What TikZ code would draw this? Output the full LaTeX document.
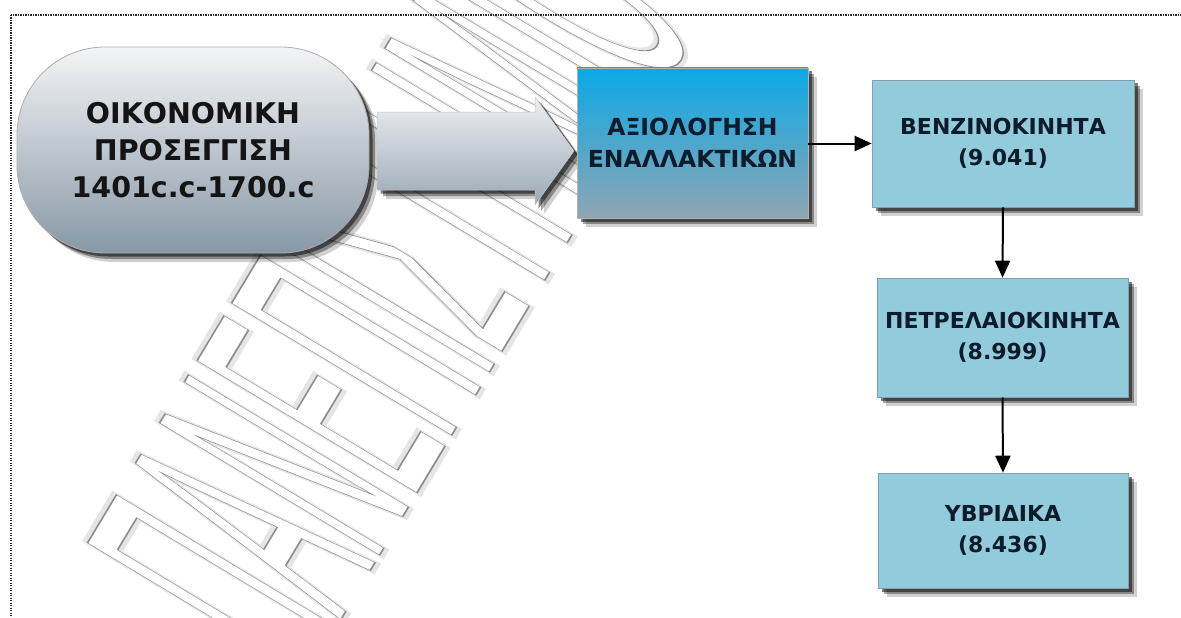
\documentclass[tikz,border=0pt]{standalone}
\usepackage{fontspec}
\setmainfont{DejaVu Sans}
\newfontfamily\wmfont{Liberation Sans}
\newfontfamily\wmhalofont[FakeBold=3]{Liberation Sans}
\usetikzlibrary{shadows,arrows.meta}
\definecolor{txt}{HTML}{0D1B2A}
\definecolor{lightbox}{HTML}{92CBDC}
\definecolor{boxedge}{HTML}{7FA0AC}
\definecolor{bluetop}{HTML}{0AA9E6}
\definecolor{bluebot}{HTML}{8FA5B3}
\definecolor{pilltop}{HTML}{F3F4F6}
\definecolor{pillbot}{HTML}{8898A6}
\definecolor{arrtop}{HTML}{EEEFF1}
\definecolor{arrbot}{HTML}{9AA9B6}
\newcommand{\wmword}{ΠΑΝΕΠΙΣΤΗΜΙΟ}
\newcommand{\wmsize}{\fontsize{373}{373}\selectfont}
\tikzset{
  boxshadow/.style={
    general shadow={shadow xshift=9pt, shadow yshift=-9pt, fill=black, opacity=0.18},
    general shadow={shadow xshift=6pt, shadow yshift=-6pt, fill=black, opacity=0.35},
    general shadow={shadow xshift=3.5pt, shadow yshift=-3.5pt, fill=black, opacity=0.5}},
  pill/.style={boxshadow, draw=gray!65, line width=0.8pt, rounded corners=88pt,
    top color=pilltop, bottom color=pillbot, align=center, text=black!92,
    font=\bfseries\fontsize{28.5}{37}\selectfont, inner sep=0pt},
  bluebox/.style={boxshadow, draw=gray!60, line width=0.6pt,
    top color=bluetop, bottom color=bluebot, align=center, text=txt,
    font=\bfseries\fontsize{23.5}{32}\selectfont, inner sep=0pt},
  lbox/.style={boxshadow, draw=boxedge, line width=0.6pt, fill=lightbox,
    align=center, text=txt, font=\bfseries\fontsize{22}{31}\selectfont, inner sep=0pt},
  bigarrow/.style={boxshadow, draw=gray!45, line width=0.5pt, top color=arrtop, bottom color=arrbot},
  conn/.style={draw=black, line width=2pt, -{Triangle[length=17pt,width=15pt]}},
  framestyle/.style={draw=black!85, line width=1.4pt, dash pattern=on 1.2pt off 1.3pt},
  wmnode/.style={rotate=59, xscale=0.27, anchor=north west, inner sep=0pt, outer sep=0pt}
}
\begin{document}
\begin{tikzpicture}[x=1pt,y=-1pt]
\useasboundingbox (0,0) rectangle (1181,618);
\fill[white] (0,0) rectangle (1181,618);
% watermark: soft halo, white letters, grey outline
\begin{scope}
\clip (0,0) rectangle (1181,618);
\node[wmnode, text=black!10] (wm1) at (80,548) {\wmhalofont\wmsize \wmword};
\node[wmnode, text=white] (wm2) at (80,548) {\wmfont\wmsize \wmword};
\node[wmnode, text=black!45] (wm3) at (80,548) {\wmfont\wmsize\special{pdf:literal direct 1 Tr 1.6 w}\wmword\special{pdf:literal direct 0 Tr}};
\end{scope}
% frame
\draw[framestyle] (11,15) rectangle (1200,640);
% nodes
\node[pill, minimum width=352pt, minimum height=206pt] (pill) at (193,150) {ΟΙΚΟΝΟΜΙΚΗ\\ΠΡΟΣΕΓΓΙΣΗ\\1401c.c-1700.c};
\path[bigarrow] (377,112) -- (535,112) -- (535,97) -- (574,151) -- (535,205) -- (535,190) -- (377,190) -- cycle;
\node[bluebox, minimum width=231pt, minimum height=150pt] (blue) at (692.5,143) {ΑΞΙΟΛΟΓΗΣΗ\\ΕΝΑΛΛΑΚΤΙΚΩΝ};
\node[lbox, minimum width=262pt, minimum height=127pt] (benz) at (1003,143.5) {ΒΕΝΖΙΝΟΚΙΝΗΤΑ\\(9.041)};
\node[lbox, minimum width=251pt, minimum height=119pt] (petr) at (1002.5,337.5) {ΠΕΤΡΕΛΑΙΟΚΙΝΗΤΑ\\(8.999)};
\node[lbox, minimum width=250pt, minimum height=115pt] (ybr) at (1003,530.5) {ΥΒΡΙΔΙΚΑ\\(8.436)};
% connectors
\draw[conn] (blue.east |- benz.west) -- (benz.west);
\draw[conn] (benz.south) -- (petr.north);
\draw[conn] (petr.south) -- (ybr.north);
\end{tikzpicture}
\end{document}
